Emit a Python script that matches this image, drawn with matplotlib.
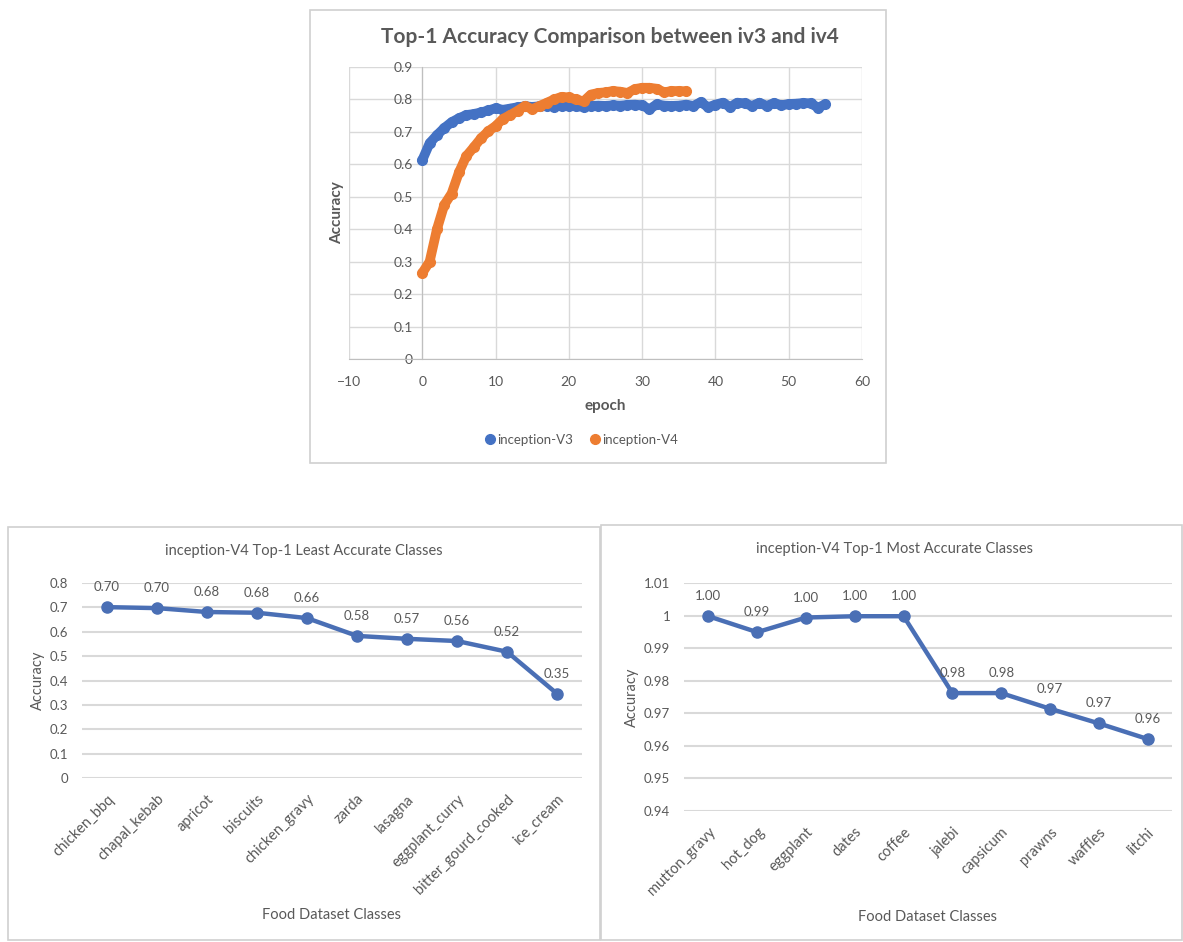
import matplotlib
matplotlib.use('Agg')
import matplotlib.pyplot as plt
from matplotlib.patches import Rectangle
from matplotlib.ticker import FuncFormatter

plt.rcParams['font.family'] = ['Lato', 'DejaVu Sans']

# top chart: accuracy per epoch
v3_epoch = list(range(0, 56))
v3_acc = [0.613, 0.665, 0.690, 0.712, 0.730, 0.742, 0.752, 0.755, 0.760, 0.766,
          0.773, 0.768, 0.772, 0.776, 0.779, 0.777, 0.779, 0.780, 0.778, 0.781,
          0.780, 0.779, 0.777, 0.780, 0.781, 0.780, 0.782, 0.781, 0.783, 0.784,
          0.782, 0.770, 0.785, 0.781, 0.780, 0.781, 0.784, 0.780, 0.792, 0.776,
          0.784, 0.790, 0.777, 0.790, 0.788, 0.780, 0.790, 0.780, 0.789, 0.782,
          0.786, 0.787, 0.789, 0.788, 0.775, 0.785]
v4_epoch = list(range(0, 37))
v4_acc = [0.265, 0.300, 0.400, 0.475, 0.510, 0.575, 0.625, 0.652, 0.680, 0.702,
          0.718, 0.740, 0.752, 0.765, 0.780, 0.770, 0.780, 0.790, 0.800, 0.808,
          0.806, 0.800, 0.794, 0.815, 0.820, 0.822, 0.826, 0.824, 0.820, 0.832,
          0.836, 0.836, 0.833, 0.822, 0.826, 0.826, 0.825]

# bottom charts
least_classes = ['chicken_bbq', 'chapal_kebab', 'apricot', 'biscuits', 'chicken_gravy',
                 'zarda', 'lasagna', 'eggplant_curry', 'bitter_gourd_cooked', 'ice_cream']
least_acc = [0.701, 0.697, 0.681, 0.678, 0.656, 0.583, 0.571, 0.562, 0.518, 0.346]
most_classes = ['mutton_gravy', 'hot_dog', 'eggplant', 'dates', 'coffee',
                'jalebi', 'capsicum', 'prawns', 'waffles', 'litchi']
most_acc = [0.9998, 0.9949, 0.9994, 0.9998, 0.9998, 0.9762, 0.9762, 0.9714, 0.9669, 0.9621]

BLUE = '#4472C4'
ORANGE = '#ED7D31'
LINEBLUE = '#4a6fb5'
TXT = '#595959'
GRID = '#d9d9d9'

fig = plt.figure(figsize=(11.83, 9.42), dpi=100)
W, H = 1183.0, 942.0

def box(x0, y0, x1, y1):
    fig.patches.append(Rectangle((x0 / W, 1 - y1 / H), (x1 - x0) / W, (y1 - y0) / H,
                                 transform=fig.transFigure, fill=False,
                                 edgecolor='#d0d0d0', linewidth=1.2))

box(310, 10, 886, 463)
box(8, 527, 600, 940)
box(601, 525, 1182, 940)

############################################################
# top chart
ax = fig.add_axes([349 / W, 1 - 359 / H, 513 / W, 292 / H])
ax.plot(v3_epoch, v3_acc, color=BLUE, lw=7, marker='o', ms=7,
        solid_capstyle='round', solid_joinstyle='round', label='inception-V3', zorder=3)
ax.plot(v4_epoch, v4_acc, color=ORANGE, lw=7, marker='o', ms=7,
        solid_capstyle='round', solid_joinstyle='round', label='inception-V4', zorder=4)
ax.set_xlim(-10, 60)
ax.set_ylim(0, 0.9)
ax.set_xticks(range(-10, 61, 10))
ax.set_yticks([i / 10 for i in range(10)])
ax.yaxis.set_major_formatter(FuncFormatter(lambda v, p: '%g' % round(v, 2)))
ax.grid(True, color=GRID, lw=1)
ax.set_axisbelow(True)
for s in ['top', 'right']:
    ax.spines[s].set_visible(False)
ax.spines['left'].set_position(('data', 0))
ax.spines['left'].set_color('#bfbfbf')
ax.spines['bottom'].set_color('#bfbfbf')
ax.tick_params(length=0, labelsize=10, colors=TXT)
ax.tick_params(axis='x', pad=12)
ax.tick_params(axis='y', pad=7)
ax.set_xlabel('epoch', fontsize=11, fontweight='bold', color=TXT, labelpad=8)
ax.set_ylabel('Accuracy', fontsize=11, fontweight='bold', color=TXT)
ax.yaxis.set_label_coords(-0.01, 0.5)
fig.text(610 / W, 1 - 37 / H, 'Top-1 Accuracy Comparison between iv3 and iv4',
         fontsize=15, fontweight='bold', color=TXT, ha='center', va='center')
leg = fig.legend(loc='center', bbox_to_anchor=(582 / W, 1 - 440 / H), ncol=2,
                 frameon=False, fontsize=9.5, handlelength=0.5, handletextpad=0.3,
                 columnspacing=1.4, markerscale=1.0)
for h in leg.legend_handles:
    h.set_linewidth(0)
for t in leg.get_texts():
    t.set_color(TXT)

############################################################
def line_panel(rect, classes, acc, yticks, title, title_xy, xlab_xy, ylab_xy):
    a = fig.add_axes(rect)
    x = list(range(len(classes)))
    a.plot(x, acc, color=LINEBLUE, lw=3.2, marker='o', ms=8, zorder=3)
    for xi, v in zip(x, acc):
        a.annotate('%.2f' % v, (xi, v), xytext=(0, 10), textcoords='offset points',
                   ha='center', va='bottom', fontsize=9.5, color=TXT)
    a.set_xlim(-0.5, len(classes) - 0.5)
    a.set_ylim(yticks[0], yticks[-1])
    a.set_yticks(yticks)
    a.yaxis.set_major_formatter(FuncFormatter(lambda v, p: '%g' % round(v, 3)))
    a.set_xticks(x)
    a.set_xticklabels(classes, rotation=45, ha='right', rotation_mode='anchor')
    a.grid(True, axis='y', color=GRID, lw=1.5)
    a.set_axisbelow(True)
    for s in a.spines.values():
        s.set_visible(False)
    a.tick_params(length=0, labelsize=9.5, colors=TXT)
    a.tick_params(axis='x', pad=10, labelsize=10.5)
    a.tick_params(axis='y', pad=10)
    fig.text(title_xy[0] / W, 1 - title_xy[1] / H, title, fontsize=10.5, color=TXT,
             ha='center', va='center')
    fig.text(xlab_xy[0] / W, 1 - xlab_xy[1] / H, 'Food Dataset Classes', fontsize=10.5,
             color=TXT, ha='center', va='center')
    fig.text(ylab_xy[0] / W, 1 - ylab_xy[1] / H, 'Accuracy', fontsize=10.5,
             color=TXT, ha='center', va='center', rotation=90)
    return a

line_panel([82 / W, 1 - 778 / H, 500 / W, 195 / H], least_classes, least_acc,
           [i / 10 for i in range(9)], 'inception-V4 Top-1 Least Accurate Classes',
           (304, 551), (332, 915), (38, 680))

line_panel([684 / W, 1 - 811 / H, 488 / W, 228 / H], most_classes, most_acc,
           [0.94, 0.95, 0.96, 0.97, 0.98, 0.99, 1.0, 1.01],
           'inception-V4 Top-1 Most Accurate Classes',
           (895, 549), (927, 917), (632, 697))

plt.savefig('out.png', dpi=100)
